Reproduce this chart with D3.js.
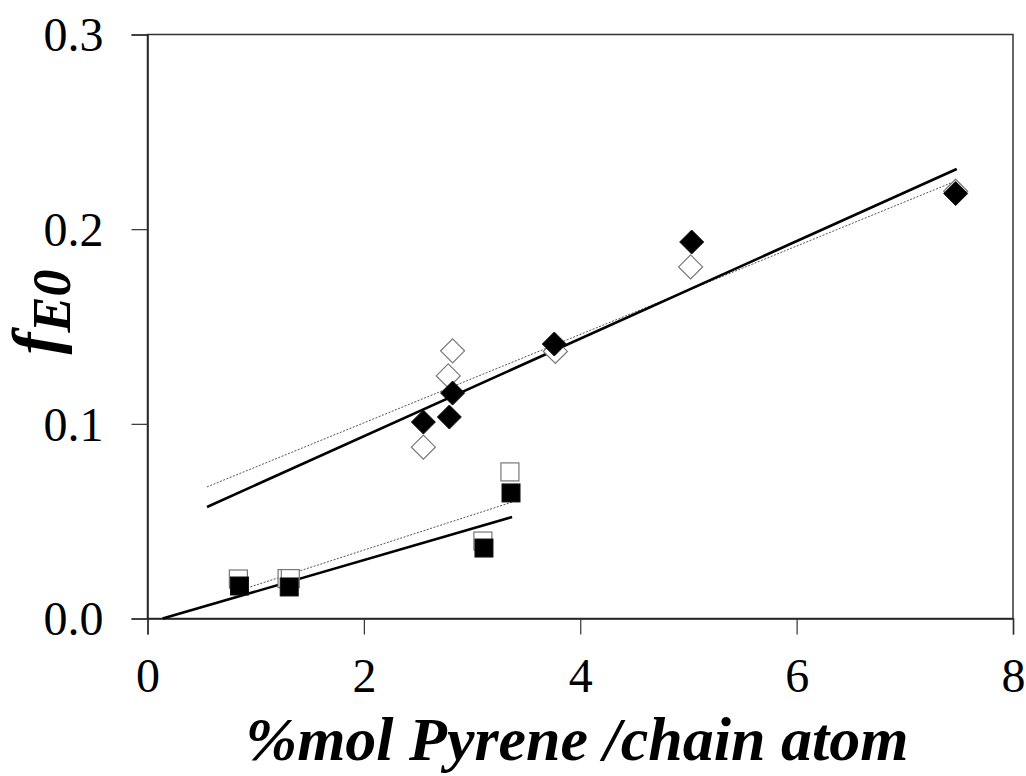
<!DOCTYPE html>
<html>
<head>
<meta charset="utf-8">
<script src="https://cdn.jsdelivr.net/npm/d3@7"></script>
<style>
  body { margin: 0; background: #fff; }
  svg { display: block; }
  svg text { font-family: "Liberation Serif", "Times New Roman", Times, serif; }
</style>
</head>
<body>
<div id="chart"></div>
<script>
// values
const xTicks = [0, 2, 4, 6, 8];
const yTicks = [0.0, 0.1, 0.2, 0.3];

const diamondOpenX = [2.55, 2.78, 2.82, 3.77, 5.02, 7.47];
const diamondOpenY = [0.088, 0.1246, 0.1375, 0.1372, 0.1806, 0.2195];
const diamondFilledX = [2.55, 2.79, 2.82, 3.76, 5.03, 7.47];
const diamondFilledY = [0.1009, 0.1035, 0.1158, 0.141, 0.1934, 0.2183];

const squareOpenX = [0.84, 1.29, 1.32, 3.10, 3.35];
const squareOpenY = [0.0203, 0.0205, 0.0205, 0.0398, 0.0753];
const squareFilledX = [0.85, 1.31, 3.11, 3.36];
const squareFilledY = [0.0167, 0.0162, 0.0362, 0.0645];

// fitted lines, [x0, y0, x1, y1]
const diamondSolidFit = [0.55, 0.0573, 7.48, 0.2309];
const diamondDottedFit = [0.55, 0.0676, 7.47, 0.2247];
const squareSolidFit = [0.14, 0.0, 3.37, 0.0521];
const squareDottedFit = [0.92, 0.0157, 3.37, 0.0598];

const W = 1026, H = 776;
const margin = { top: 34.5, right: 13, bottom: 157.5, left: 147.5 };
const serif = '"Liberation Serif", "Times New Roman", Times, serif';

const svg = d3.select("#chart").append("svg")
    .attr("width", W)
    .attr("height", H);

const x = d3.scaleLinear().domain([0, 8]).range([margin.left, W - margin.right]);
const y = d3.scaleLinear().domain([0, 0.3]).range([H - margin.bottom, margin.top]);

// frame
svg.append("rect")
    .attr("x", x(0))
    .attr("y", y(0.3))
    .attr("width", x(8) - x(0))
    .attr("height", y(0) - y(0.3))
    .attr("fill", "none")
    .attr("stroke", "#333")
    .attr("stroke-width", 1.5);

// axes
const xAxis = svg.append("g")
    .attr("transform", `translate(0,${y(0)})`)
    .call(d3.axisBottom(x).tickValues(xTicks).tickSize(16).tickPadding(23).tickFormat(d3.format("d")));
xAxis.attr("font-family", serif);
xAxis.select(".domain").attr("stroke", "#222").attr("stroke-width", 1.5);
xAxis.selectAll(".tick line").attr("stroke", "#333").attr("stroke-width", 1.2);
xAxis.selectAll("text")
    .attr("font-size", "48px")
    .attr("fill", "#000");

const yAxis = svg.append("g")
    .attr("transform", `translate(${x(0)},0)`)
    .call(d3.axisLeft(y).tickValues(yTicks).tickSize(16).tickPadding(28).tickFormat(d3.format(".1f")));
yAxis.attr("font-family", serif);
yAxis.select(".domain").attr("stroke", "#222").attr("stroke-width", 1.5);
yAxis.selectAll(".tick line").attr("stroke", "#333").attr("stroke-width", 1.2);
yAxis.selectAll("text")
    .attr("font-size", "48px")
    .attr("dy", "0.34em")
    .attr("fill", "#000");

// trend lines
function fitLine(fit, dotted) {
    svg.append("line")
        .attr("x1", x(fit[0])).attr("y1", y(fit[1]))
        .attr("x2", x(fit[2])).attr("y2", y(fit[3]))
        .attr("stroke", dotted ? "#555" : "#000")
        .attr("stroke-width", dotted ? 1 : 2.6)
        .attr("stroke-dasharray", dotted ? "2,1.5" : null);
}
fitLine(diamondDottedFit, true);
fitLine(squareDottedFit, true);
fitLine(diamondSolidFit, false);
fitLine(squareSolidFit, false);

// markers
const zip = (xs, ys) => xs.map((v, i) => [v, ys[i]]);
const diamond = "M0,-12L12,0L0,12L-12,0Z";

svg.append("g").selectAll("rect")
    .data(zip(squareOpenX, squareOpenY))
    .join("rect")
    .attr("x", d => x(d[0]) - 9)
    .attr("y", d => y(d[1]) - 9)
    .attr("width", 18).attr("height", 18)
    .attr("fill", "#fff")
    .attr("stroke", "#777")
    .attr("stroke-width", 1.2);

svg.append("g").selectAll("path")
    .data(zip(diamondOpenX, diamondOpenY))
    .join("path")
    .attr("d", diamond)
    .attr("transform", d => `translate(${x(d[0])},${y(d[1])})`)
    .attr("fill", "#fff")
    .attr("stroke", "#777")
    .attr("stroke-width", 1.2);

svg.append("g").selectAll("rect")
    .data(zip(squareFilledX, squareFilledY))
    .join("rect")
    .attr("x", d => x(d[0]) - 9)
    .attr("y", d => y(d[1]) - 9)
    .attr("width", 18).attr("height", 18)
    .attr("fill", "#000")
    .attr("stroke", "#111")
    .attr("stroke-width", 1);

svg.append("g").selectAll("path")
    .data(zip(diamondFilledX, diamondFilledY))
    .join("path")
    .attr("d", diamond)
    .attr("transform", d => `translate(${x(d[0])},${y(d[1])})`)
    .attr("fill", "#000")
    .attr("stroke", "#111")
    .attr("stroke-width", 1);

// axis titles
svg.append("text")
    .attr("x", 577)
    .attr("y", 760)
    .attr("text-anchor", "middle")
    .attr("font-family", serif)
    .attr("font-size", "62px")
    .attr("font-weight", "bold")
    .attr("font-style", "italic")
    .text("%mol Pyrene /chain atom");

const yTitle = svg.append("text")
    .attr("transform", "translate(58,312) rotate(-90)")
    .attr("text-anchor", "middle")
    .attr("font-family", serif)
    .attr("font-weight", "bold")
    .attr("font-style", "italic");
yTitle.append("tspan").attr("font-size", "66px").text("f");
yTitle.append("tspan").attr("font-size", "54px").attr("dy", 12).text("E0");
</script>
</body>
</html>
